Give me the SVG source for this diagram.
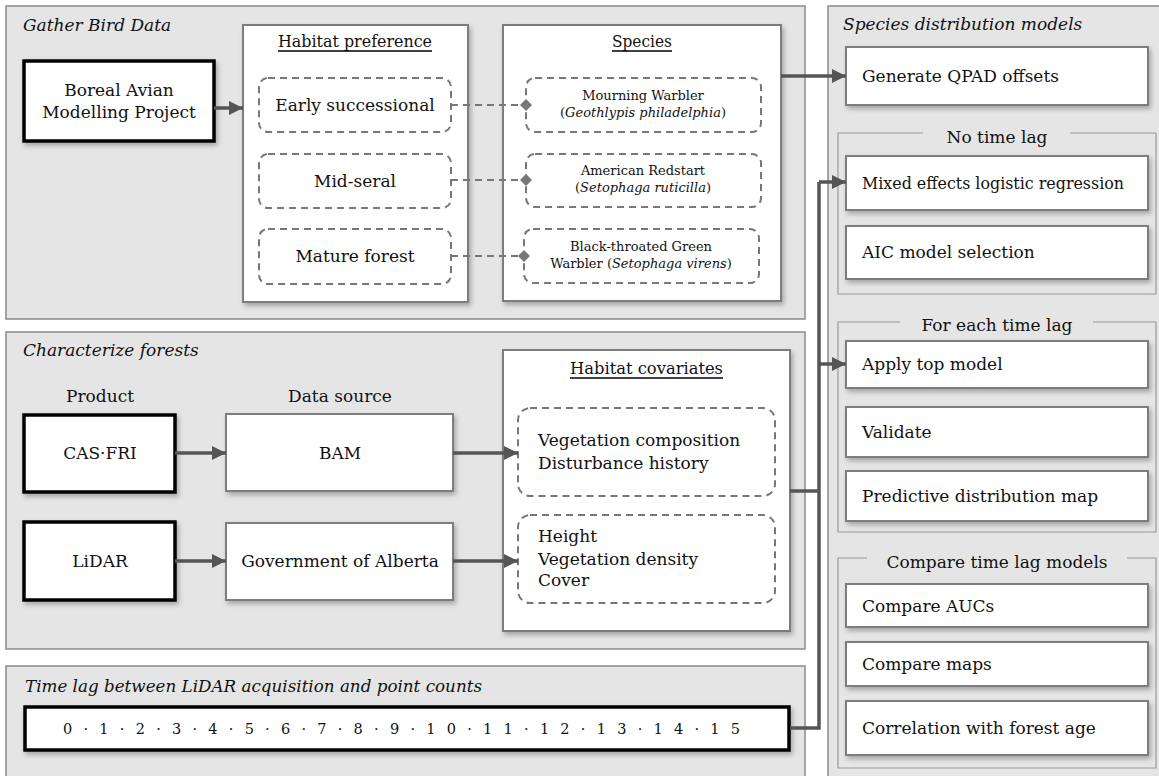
<svg xmlns="http://www.w3.org/2000/svg" width="1159" height="776" viewBox="0 0 1159 776">
<defs>
<filter id="sh" x="-10%" y="-10%" width="125%" height="130%">
<feDropShadow dx="2" dy="3" stdDeviation="2.5" flood-color="#000" flood-opacity="0.28"/>
</filter>
<marker id="ah" viewBox="0 0 10 10" refX="10" refY="5" markerWidth="4" markerHeight="4" orient="auto" markerUnits="strokeWidth">
<path d="M0,0 L10,5 L0,10 z" fill="#555"/>
</marker>
<marker id="dm" viewBox="0 0 12 12" refX="6" refY="6" markerWidth="12" markerHeight="12" orient="auto" markerUnits="userSpaceOnUse">
<path d="M0,6 L6,0 L12,6 L6,12 z" fill="#777"/>
</marker>
</defs>
<style>
.panel{fill:#e5e5e5;stroke:#8a8a8a;stroke-width:1.5}
.box{fill:#fff;stroke:#7d7d7d;stroke-width:2;filter:url(#sh)}
.bold{fill:#fff;stroke:#000;stroke-width:3.5;filter:url(#sh)}
.dash{fill:#fff;stroke:#777;stroke-width:2;stroke-dasharray:7,5}
.grp{fill:none;stroke:#9a9a9a;stroke-width:1.2}
.t{font-family:'DejaVu Serif','Liberation Serif','Noto Serif',serif;font-size:17px;fill:#111}
.s{font-family:'DejaVu Serif','Liberation Serif','Noto Serif',serif;font-size:13px;fill:#111}
.n{font-family:'DejaVu Serif','Liberation Serif','Noto Serif',serif;font-size:14.5px;fill:#111}
.it{font-style:italic}
.c{text-anchor:middle}
.ul{stroke:#000;stroke-width:1.5}
.con{fill:none;stroke:#555;stroke-width:3.5}
.dcon{fill:none;stroke:#777;stroke-width:2;stroke-dasharray:7,5}
</style>

<!-- panels -->
<g id="panel-gather">
<rect class="panel" x="6" y="6" width="799" height="313"/>
<text class="t it" x="23" y="31">Gather Bird Data</text>
</g>
<g id="panel-characterize">
<rect class="panel" x="6" y="332" width="799" height="317"/>
<text class="t it" x="23" y="356">Characterize forests</text>
</g>
<g id="panel-timelag">
<rect class="panel" x="6" y="666" width="799" height="130"/>
<text class="t it" x="25" y="692" textLength="457" lengthAdjust="spacingAndGlyphs">Time lag between LiDAR acquisition and point counts</text>
</g>
<g id="panel-sdm">
<rect class="panel" x="828" y="6" width="350" height="790"/>
<text class="t it" x="843" y="30">Species distribution models</text>
</g>

<!-- groups in right panel -->
<g id="group-notimelag">
<path class="grp" d="M923,133 H838 V294 H1156 V133 H1070"/>
<text class="t c" x="997" y="143">No time lag</text>
</g>
<g id="group-foreach">
<path class="grp" d="M900,322 H838 V532 H1156 V322 H1093"/>
<text class="t c" x="997" y="331">For each time lag</text>
</g>
<g id="group-compare">
<path class="grp" d="M867,558 H838 V768 H1156 V558 H1127"/>
<text class="t c" x="997" y="568">Compare time lag models</text>
</g>

<!-- Gather Bird Data nodes -->
<g id="bam-project">
<rect class="bold" x="24" y="61" width="190" height="80"/>
<text class="t c" x="119" y="96">Boreal Avian</text>
<text class="t c" x="119" y="118">Modelling Project</text>
</g>
<g id="habitat-preference">
<rect class="box" x="243" y="25" width="225" height="277"/>
<text class="t" x="278" y="47" textLength="154" lengthAdjust="spacingAndGlyphs">Habitat preference</text>
<line class="ul" x1="278" y1="51" x2="432" y2="51"/>
</g>
<g id="hp-early">
<rect class="dash" x="259" y="78" width="192" height="54" rx="9"/>
<text class="t c" x="355" y="111">Early successional</text>
</g>
<g id="hp-mid">
<rect class="dash" x="259" y="154" width="192" height="54" rx="9"/>
<text class="t c" x="355" y="187">Mid-seral</text>
</g>
<g id="hp-mature">
<rect class="dash" x="259" y="229" width="192" height="55" rx="9"/>
<text class="t c" x="355" y="262">Mature forest</text>
</g>
<g id="species">
<rect class="box" x="503" y="25" width="278" height="276"/>
<text class="t" x="612" y="47" textLength="60" lengthAdjust="spacingAndGlyphs">Species</text>
<line class="ul" x1="612" y1="51" x2="672" y2="51"/>
</g>
<g id="sp-mourning">
<rect class="dash" x="526" y="78" width="235" height="54" rx="9"/>
<text class="s c" x="643" y="100">Mourning Warbler</text>
<text class="s c" x="643" y="117">(<tspan class="it">Geothlypis philadelphia</tspan>)</text>
</g>
<g id="sp-redstart">
<rect class="dash" x="526" y="154" width="235" height="53" rx="9"/>
<text class="s c" x="643" y="175">American Redstart</text>
<text class="s c" x="643" y="192">(<tspan class="it">Setophaga ruticilla</tspan>)</text>
</g>
<g id="sp-btgw">
<rect class="dash" x="524" y="229" width="235" height="54" rx="9"/>
<text class="s c" x="641" y="251">Black-throated Green</text>
<text class="s c" x="641" y="268">Warbler (<tspan class="it">Setophaga virens</tspan>)</text>
</g>

<!-- Characterize forests nodes -->
<text class="t c" x="100" y="402">Product</text>
<text class="t c" x="340" y="402">Data source</text>
<g id="casfri">
<rect class="bold" x="24" y="415" width="151" height="77"/>
<text class="t c" x="100" y="459">CAS·FRI</text>
</g>
<g id="lidar">
<rect class="bold" x="24" y="522" width="151" height="78"/>
<text class="t c" x="100" y="567">LiDAR</text>
</g>
<g id="bam">
<rect class="box" x="226" y="414" width="227" height="77"/>
<text class="t c" x="340" y="459">BAM</text>
</g>
<g id="goa">
<rect class="box" x="226" y="523" width="227" height="77"/>
<text class="t c" x="340" y="567">Government of Alberta</text>
</g>
<g id="habitat-covariates">
<rect class="box" x="503" y="350" width="287" height="281"/>
<text class="t" x="570" y="374" textLength="153" lengthAdjust="spacingAndGlyphs">Habitat covariates</text>
<line class="ul" x1="570" y1="378" x2="723" y2="378"/>
</g>
<g id="cov-casfri">
<rect class="dash" x="518" y="408" width="257" height="88" rx="12"/>
<text class="t" x="538" y="446">Vegetation composition</text>
<text class="t" x="538" y="469">Disturbance history</text>
</g>
<g id="cov-lidar">
<rect class="dash" x="518" y="515" width="257" height="88" rx="12"/>
<text class="t" x="538" y="542">Height</text>
<text class="t" x="538" y="565">Vegetation density</text>
<text class="t" x="538" y="586">Cover</text>
</g>

<!-- Time lag node -->
<g id="timeline">
<rect class="bold" x="25" y="707" width="764" height="43"/>
<text class="n" x="63" y="734" textLength="677" lengthAdjust="spacing">0 · 1 · 2 · 3 · 4 · 5 · 6 · 7 · 8 · 9 · 1 0 · 1 1 · 1 2 · 1 3 · 1 4 · 1 5</text>
</g>

<!-- SDM nodes -->
<g id="qpad">
<rect class="box" x="846" y="47" width="302" height="58"/>
<text class="t" x="862" y="82">Generate QPAD offsets</text>
</g>
<g id="mixed">
<rect class="box" x="846" y="156" width="302" height="54"/>
<text class="t" x="862" y="189" textLength="262" lengthAdjust="spacingAndGlyphs">Mixed effects logistic regression</text>
</g>
<g id="aic">
<rect class="box" x="846" y="226" width="302" height="53"/>
<text class="t" x="862" y="258">AIC model selection</text>
</g>
<g id="apply">
<rect class="box" x="846" y="341" width="302" height="47"/>
<text class="t" x="862" y="370">Apply top model</text>
</g>
<g id="validate">
<rect class="box" x="846" y="407" width="302" height="50"/>
<text class="t" x="862" y="438">Validate</text>
</g>
<g id="predictive">
<rect class="box" x="846" y="471" width="302" height="50"/>
<text class="t" x="862" y="502">Predictive distribution map</text>
</g>
<g id="aucs">
<rect class="box" x="846" y="584" width="302" height="43"/>
<text class="t" x="862" y="612">Compare AUCs</text>
</g>
<g id="maps">
<rect class="box" x="846" y="642" width="302" height="44"/>
<text class="t" x="862" y="670">Compare maps</text>
</g>
<g id="correlation">
<rect class="box" x="846" y="701" width="302" height="54"/>
<text class="t" x="862" y="734">Correlation with forest age</text>
</g>

<!-- connectors -->
<g id="connectors">
<line class="con" x1="214" y1="108" x2="243" y2="108" marker-end="url(#ah)"/>
<line class="dcon" x1="451" y1="105" x2="526" y2="105" marker-end="url(#dm)"/>
<line class="dcon" x1="451" y1="180" x2="526" y2="180" marker-end="url(#dm)"/>
<line class="dcon" x1="451" y1="256" x2="524" y2="256" marker-end="url(#dm)"/>
<line class="con" x1="781" y1="76" x2="846" y2="76" marker-end="url(#ah)"/>
<line class="con" x1="175" y1="453" x2="226" y2="453" marker-end="url(#ah)"/>
<line class="con" x1="175" y1="561" x2="226" y2="561" marker-end="url(#ah)"/>
<line class="con" x1="453" y1="453" x2="518" y2="453" marker-end="url(#ah)"/>
<line class="con" x1="453" y1="561" x2="518" y2="561" marker-end="url(#ah)"/>
<path class="con" d="M790,491 H819"/>
<path class="con" d="M790,728 H819 V182"/>
<line class="con" x1="819" y1="182" x2="846" y2="182" marker-end="url(#ah)"/>
<line class="con" x1="819" y1="364" x2="846" y2="364" marker-end="url(#ah)"/>
</g>
</svg>
